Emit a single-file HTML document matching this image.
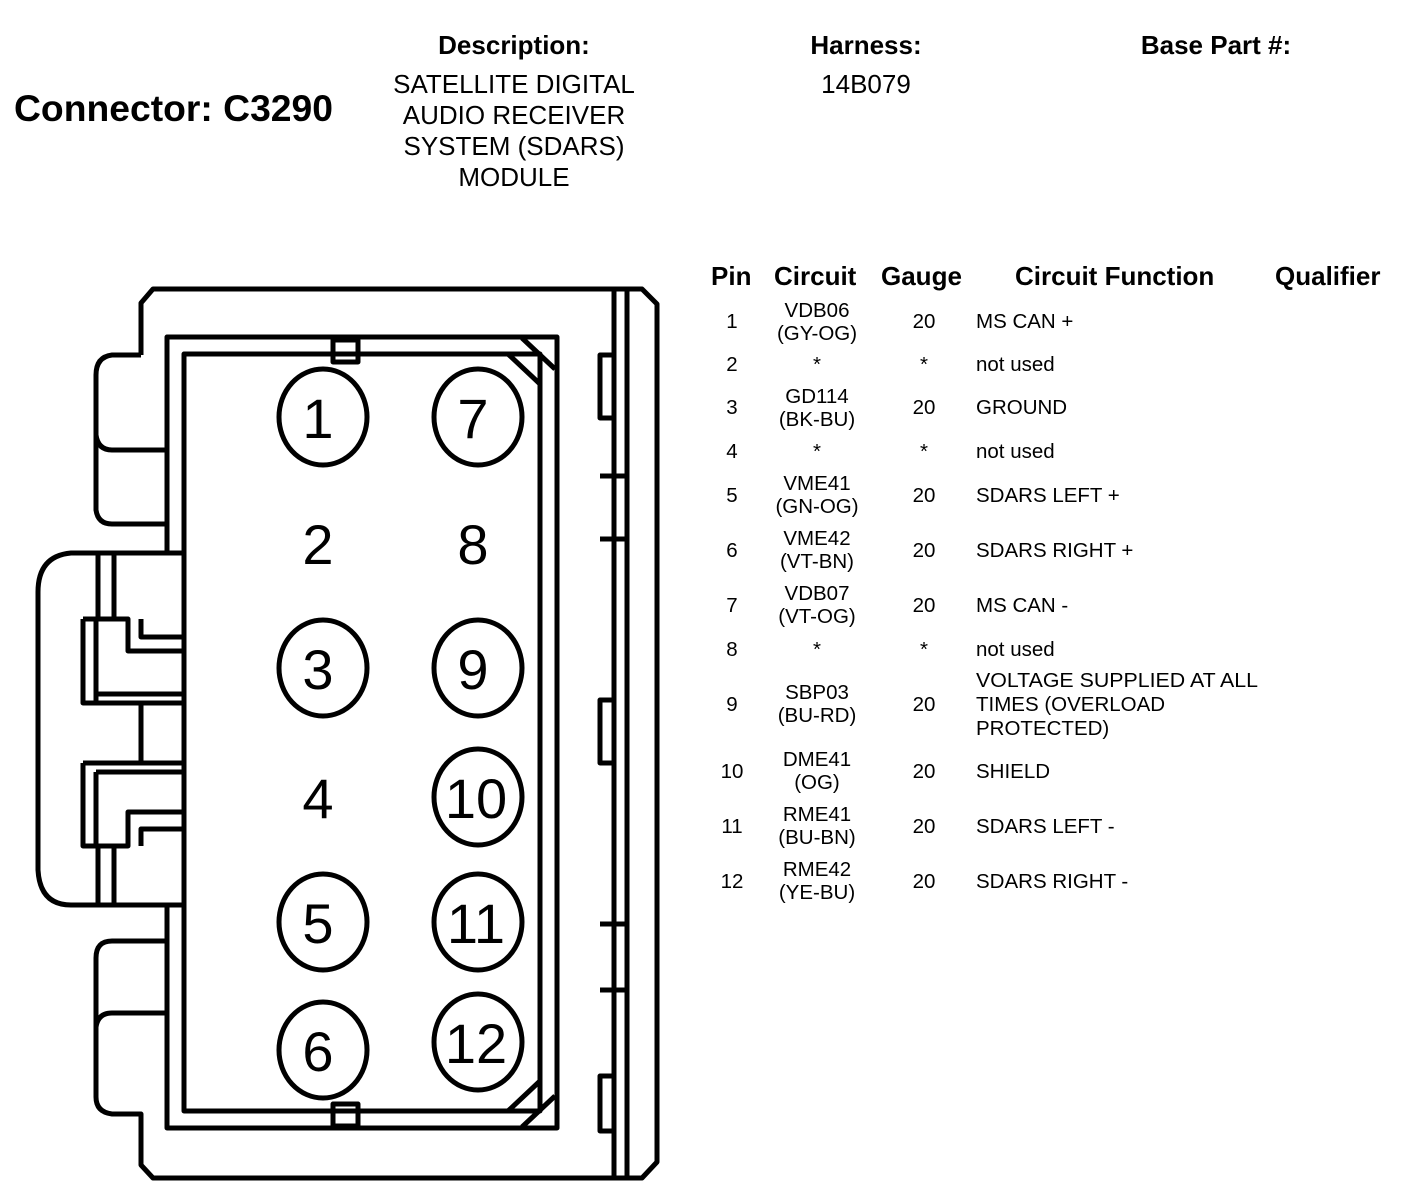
<!DOCTYPE html>
<html><head><meta charset="utf-8"><style>
html,body{margin:0;padding:0;background:#fff;}
svg{display:block;font-family:"Liberation Sans",Arial,sans-serif;}
</style></head><body>
<svg width="1408" height="1200" viewBox="0 0 1408 1200" xmlns="http://www.w3.org/2000/svg">
<g fill="#000">
<text x="14" y="121" font-size="37" font-weight="bold" textLength="319" lengthAdjust="spacingAndGlyphs">Connector: C3290</text>
<g font-size="26" text-anchor="middle">
<text x="514" y="54" font-weight="bold">Description:</text>
<text x="514" y="93">SATELLITE DIGITAL</text>
<text x="514" y="124">AUDIO RECEIVER</text>
<text x="514" y="155">SYSTEM (SDARS)</text>
<text x="514" y="186">MODULE</text>
<text x="866" y="54" font-weight="bold">Harness:</text>
<text x="866" y="93">14B079</text>
<text x="1216" y="54" font-weight="bold">Base Part #:</text>
</g>
<g font-size="26" font-weight="bold">
<text x="711" y="285">Pin</text>
<text x="774" y="285">Circuit</text>
<text x="881" y="285">Gauge</text>
<text x="1015" y="285">Circuit Function</text>
<text x="1275" y="285">Qualifier</text>
</g>
<g font-size="20.5">
<g text-anchor="middle">
<text x="732" y="328">1</text><text x="817" y="317">VDB06</text><text x="817" y="340">(GY-OG)</text><text x="924" y="328">20</text>
<text x="732" y="371">2</text><text x="817" y="371">*</text><text x="924" y="371">*</text>
<text x="732" y="414">3</text><text x="817" y="403">GD114</text><text x="817" y="426">(BK-BU)</text><text x="924" y="414">20</text>
<text x="732" y="458">4</text><text x="817" y="458">*</text><text x="924" y="458">*</text>
<text x="732" y="502">5</text><text x="817" y="490">VME41</text><text x="817" y="513">(GN-OG)</text><text x="924" y="502">20</text>
<text x="732" y="557">6</text><text x="817" y="545">VME42</text><text x="817" y="568">(VT-BN)</text><text x="924" y="557">20</text>
<text x="732" y="612">7</text><text x="817" y="600">VDB07</text><text x="817" y="623">(VT-OG)</text><text x="924" y="612">20</text>
<text x="732" y="656">8</text><text x="817" y="656">*</text><text x="924" y="656">*</text>
<text x="732" y="711">9</text><text x="817" y="699">SBP03</text><text x="817" y="722">(BU-RD)</text><text x="924" y="711">20</text>
<text x="732" y="778">10</text><text x="817" y="766">DME41</text><text x="817" y="789">(OG)</text><text x="924" y="778">20</text>
<text x="732" y="833">11</text><text x="817" y="821">RME41</text><text x="817" y="844">(BU-BN)</text><text x="924" y="833">20</text>
<text x="732" y="888">12</text><text x="817" y="876">RME42</text><text x="817" y="899">(YE-BU)</text><text x="924" y="888">20</text>
</g>
<text x="976" y="328">MS CAN +</text>
<text x="976" y="371">not used</text>
<text x="976" y="414">GROUND</text>
<text x="976" y="458">not used</text>
<text x="976" y="502">SDARS LEFT +</text>
<text x="976" y="557">SDARS RIGHT +</text>
<text x="976" y="612">MS CAN -</text>
<text x="976" y="656">not used</text>
<text x="976" y="687" textLength="282" lengthAdjust="spacingAndGlyphs">VOLTAGE SUPPLIED AT ALL</text>
<text x="976" y="711">TIMES (OVERLOAD</text>
<text x="976" y="735">PROTECTED)</text>
<text x="976" y="778">SHIELD</text>
<text x="976" y="833">SDARS LEFT -</text>
<text x="976" y="888">SDARS RIGHT -</text>
</g>
</g>
<g fill="none" stroke="#000" stroke-width="5" stroke-linejoin="round">
<path d="M141,355 L141,303 L153,289 L642,289 L657,304 L657,1162 L642,1178 L153,1178 L141,1165 L141,1114 L112,1114 Q96,1112 96,1097 L96,958 Q96,941 112,941 L167,941"/>
<path d="M96,1027 Q98,1013 112,1013 L167,1013"/>
<path d="M167,905 L167,1128 L557,1128 L557,337 L167,337 L167,553"/>
<path d="M184,905 L184,1111 L540,1111 L540,354 L184,354 L184,553"/>
<path d="M141,355 L112,355 Q96,357 96,375 L96,510 Q98,524 112,524 L167,524"/>
<path d="M96,435 Q98,450 112,450 L167,450"/>
<path d="M184,553 L71,553 Q38,556 38,592 L38,870 Q40,905 71,905 L184,905"/>
<path d="M98,553 L98,619 M114,553 L114,619 M98,846 L98,905 M114,846 L114,905"/>
<path d="M184,553 L184,905"/>
<path d="M83,619 L128,619 L128,651 L184,651 M141,619 L141,637 L184,637 M83,619 L83,703 L184,703 M96,619 L96,703 M96,694 L184,694"/>
<path d="M141,703 L141,763"/>
<path d="M83,763 L184,763 M96,772 L184,772 M83,763 L83,846 L128,846 L128,812 L184,812 M141,846 L141,829 L184,829 M96,772 L96,846"/>
<rect x="333" y="340" width="25" height="22"/>
<rect x="333" y="1104" width="25" height="22"/>
<path d="M508,354 L540,384 M522,338 L555,369"/>
<path d="M508,1111 L540,1081 M522,1127 L555,1096"/>
<path d="M614,289 L614,1178 M627,289 L627,1178"/>
<path d="M614,355 L600,355 L600,418 L614,418 M600,476 L627,476 M600,539 L627,539 M614,700 L600,700 L600,763 L614,763 M600,924 L627,924 M600,990 L627,990 M614,1076 L600,1076 L600,1131 L614,1131"/>
<ellipse cx="323" cy="417" rx="44" ry="48"/>
<ellipse cx="478" cy="417" rx="44" ry="48"/>
<ellipse cx="323" cy="668" rx="44" ry="48"/>
<ellipse cx="478" cy="668" rx="44" ry="48"/>
<ellipse cx="478" cy="797" rx="44" ry="48"/>
<ellipse cx="323" cy="922" rx="44" ry="48"/>
<ellipse cx="478" cy="922" rx="44" ry="48"/>
<ellipse cx="323" cy="1050" rx="44" ry="48"/>
<ellipse cx="478" cy="1042" rx="44" ry="48"/>
</g>
<g font-size="56" text-anchor="middle" fill="#000">
<text x="318" y="438">1</text><text x="473" y="438">7</text>
<text x="318" y="564">2</text><text x="473" y="564">8</text>
<text x="318" y="689">3</text><text x="473" y="689">9</text>
<text x="318" y="818">4</text><text x="476" y="818">10</text>
<text x="318" y="943">5</text><text x="476" y="943">11</text>
<text x="318" y="1071">6</text><text x="476" y="1063">12</text>
</g>
</svg>
</body></html>
